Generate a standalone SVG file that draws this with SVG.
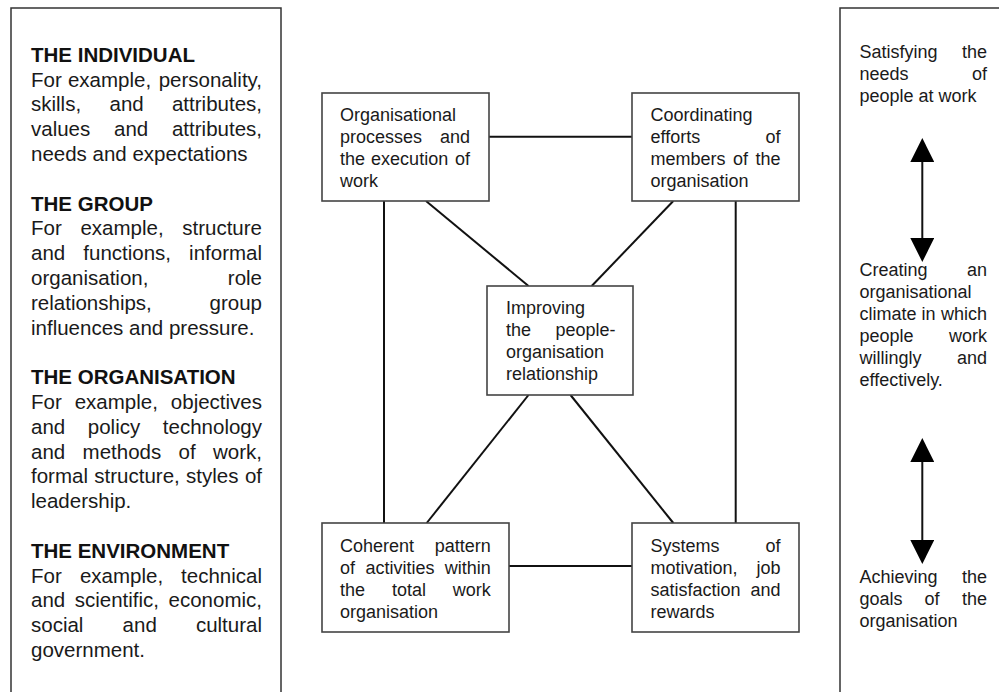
<svg xmlns="http://www.w3.org/2000/svg" width="999" height="692" viewBox="0 0 999 692">
<style>
text{font-family:"Liberation Sans",Arial,sans-serif;fill:#1a1a1a}
.lt{font-size:20.5px}
.hd{font-size:20.5px;font-weight:bold;fill:#111}
.bt{font-size:18px}
.rt{font-size:18px}
.e{text-anchor:end}
.panel{fill:#fff;stroke:#333;stroke-width:1.5}
.box{fill:#fff;stroke:#444;stroke-width:1.6}
.conn line{stroke:#111;stroke-width:2}
</style>
<defs>
<marker id="ah" viewBox="0 0 24 24" refX="0" refY="12" markerWidth="24" markerHeight="24" markerUnits="userSpaceOnUse" orient="auto-start-reverse"><path d="M0,0 L24,12 L0,24 Z" fill="#000"/></marker>
</defs>
<rect width="999" height="692" fill="#fff"/>

<g id="left-panel">
<rect class="panel" x="11" y="8" width="270" height="700"/>
<text class="hd" x="31" y="61.7">THE INDIVIDUAL</text>
<text class="lt" y="86.5"><tspan x="31">For</tspan><tspan x="67.9">example,</tspan><tspan x="262" class="e">personality,</tspan></text>
<text class="lt" y="111.3"><tspan x="31">skills,</tspan><tspan x="109.5">and</tspan><tspan x="262" class="e">attributes,</tspan></text>
<text class="lt" y="136.1"><tspan x="31">values</tspan><tspan x="114">and</tspan><tspan x="262" class="e">attributes,</tspan></text>
<text class="lt" x="31" y="160.9">needs and expectations</text>
<text class="hd" x="31" y="210.5">THE GROUP</text>
<text class="lt" y="235.3"><tspan x="31">For</tspan><tspan x="80.4">example,</tspan><tspan x="262" class="e">structure</tspan></text>
<text class="lt" y="260.1"><tspan x="31">and</tspan><tspan x="83.3">functions,</tspan><tspan x="262" class="e">informal</tspan></text>
<text class="lt" y="284.9"><tspan x="31">organisation,</tspan><tspan x="262" class="e">role</tspan></text>
<text class="lt" y="309.7"><tspan x="31">relationships,</tspan><tspan x="262" class="e">group</tspan></text>
<text class="lt" x="31" y="334.5">influences and pressure.</text>
<text class="hd" x="31" y="384.1">THE ORGANISATION</text>
<text class="lt" y="408.9"><tspan x="31">For</tspan><tspan x="74.7">example,</tspan><tspan x="262" class="e">objectives</tspan></text>
<text class="lt" y="433.7"><tspan x="31">and</tspan><tspan x="87.8">policy</tspan><tspan x="262" class="e">technology</tspan></text>
<text class="lt" y="458.5"><tspan x="31">and</tspan><tspan x="82.6">methods</tspan><tspan x="178.6">of</tspan><tspan x="262" class="e">work,</tspan></text>
<text class="lt" y="483.3"><tspan x="31">formal</tspan><tspan x="94.3">structure,</tspan><tspan x="186.1">styles</tspan><tspan x="262" class="e">of</tspan></text>
<text class="lt" x="31" y="508.1">leadership.</text>
<text class="hd" x="31" y="557.7">THE ENVIRONMENT</text>
<text class="lt" y="582.5"><tspan x="31">For</tspan><tspan x="79.9">example,</tspan><tspan x="262" class="e">technical</tspan></text>
<text class="lt" y="607.3"><tspan x="31">and</tspan><tspan x="74.7">scientific,</tspan><tspan x="262" class="e">economic,</tspan></text>
<text class="lt" y="632.1"><tspan x="31">social</tspan><tspan x="122.6">and</tspan><tspan x="262" class="e">cultural</tspan></text>
<text class="lt" x="31" y="656.9">government.</text>
</g>

<g id="connectors" class="conn">
<line x1="489" y1="136.7" x2="632" y2="136.7"/>
<line x1="509" y1="566" x2="632" y2="566"/>
<line x1="384" y1="201" x2="384" y2="523"/>
<line x1="735.7" y1="201" x2="735.7" y2="523"/>
<line x1="426" y1="201" x2="528.5" y2="286"/>
<line x1="673.3" y1="201" x2="591.7" y2="286"/>
<line x1="528.5" y1="395" x2="426.7" y2="523"/>
<line x1="570.5" y1="395" x2="673.3" y2="523"/>
</g>

<g id="node-processes">
<rect class="box" x="322" y="93" width="167" height="108"/>
<text class="bt" x="340" y="120.7">Organisational</text>
<text class="bt" y="142.7"><tspan x="340">processes</tspan><tspan x="470" class="e">and</tspan></text>
<text class="bt" y="164.7"><tspan x="340">the</tspan><tspan x="371.1">execution</tspan><tspan x="470" class="e">of</tspan></text>
<text class="bt" x="340" y="186.7">work</text>
</g>

<g id="node-coordinating">
<rect class="box" x="632" y="93" width="167" height="108"/>
<text class="bt" x="650.5" y="120.7">Coordinating</text>
<text class="bt" y="142.7"><tspan x="650.5">efforts</tspan><tspan x="780.5" class="e">of</tspan></text>
<text class="bt" y="164.7"><tspan x="650.5">members</tspan><tspan x="733">of</tspan><tspan x="780.5" class="e">the</tspan></text>
<text class="bt" x="650.5" y="186.7">organisation</text>
</g>

<g id="node-improving">
<rect class="box" x="487" y="286" width="146" height="109"/>
<text class="bt" x="506" y="314.3">Improving</text>
<text class="bt" y="336.3"><tspan x="506">the</tspan><tspan x="615.5" class="e">people-</tspan></text>
<text class="bt" x="506" y="358.3">organisation</text>
<text class="bt" x="506" y="380.3">relationship</text>
</g>

<g id="node-coherent">
<rect class="box" x="322" y="523" width="187" height="109"/>
<text class="bt" y="551.5"><tspan x="340">Coherent</tspan><tspan x="490.7" class="e">pattern</tspan></text>
<text class="bt" y="573.5"><tspan x="340">of</tspan><tspan x="365.4">activities</tspan><tspan x="490.7" class="e">within</tspan></text>
<text class="bt" y="595.5"><tspan x="340">the</tspan><tspan x="391.9">total</tspan><tspan x="490.7" class="e">work</tspan></text>
<text class="bt" x="340" y="617.5">organisation</text>
</g>

<g id="node-systems">
<rect class="box" x="632" y="523" width="167" height="109"/>
<text class="bt" y="551.5"><tspan x="650.5">Systems</tspan><tspan x="780.5" class="e">of</tspan></text>
<text class="bt" y="573.5"><tspan x="650.5">motivation,</tspan><tspan x="780.5" class="e">job</tspan></text>
<text class="bt" y="595.5"><tspan x="650.5">satisfaction</tspan><tspan x="780.5" class="e">and</tspan></text>
<text class="bt" x="650.5" y="617.5">rewards</text>
</g>

<g id="right-panel">
<rect class="panel" x="840" y="8" width="200" height="700"/>
<text class="rt" y="57.5"><tspan x="859.5">Satisfying</tspan><tspan x="987" class="e">the</tspan></text>
<text class="rt" y="79.5"><tspan x="859.5">needs</tspan><tspan x="987" class="e">of</tspan></text>
<text class="rt" x="859.5" y="101.5">people at work</text>
<text class="rt" y="276"><tspan x="859.5">Creating</tspan><tspan x="987" class="e">an</tspan></text>
<text class="rt" x="859.5" y="298">organisational</text>
<text class="rt" y="320"><tspan x="859.5">climate</tspan><tspan x="921.5">in</tspan><tspan x="987" class="e">which</tspan></text>
<text class="rt" y="342"><tspan x="859.5">people</tspan><tspan x="987" class="e">work</tspan></text>
<text class="rt" y="364"><tspan x="859.5">willingly</tspan><tspan x="987" class="e">and</tspan></text>
<text class="rt" x="859.5" y="386">effectively.</text>
<text class="rt" y="583"><tspan x="859.5">Achieving</tspan><tspan x="987" class="e">the</tspan></text>
<text class="rt" y="605"><tspan x="859.5">goals</tspan><tspan x="924.5">of</tspan><tspan x="987" class="e">the</tspan></text>
<text class="rt" x="859.5" y="627">organisation</text>
</g>

<g id="arrows" class="conn">
<line x1="922.3" y1="162" x2="922.3" y2="238" marker-start="url(#ah)" marker-end="url(#ah)"/>
<line x1="922.3" y1="462" x2="922.3" y2="540" marker-start="url(#ah)" marker-end="url(#ah)"/>
</g>
</svg>
